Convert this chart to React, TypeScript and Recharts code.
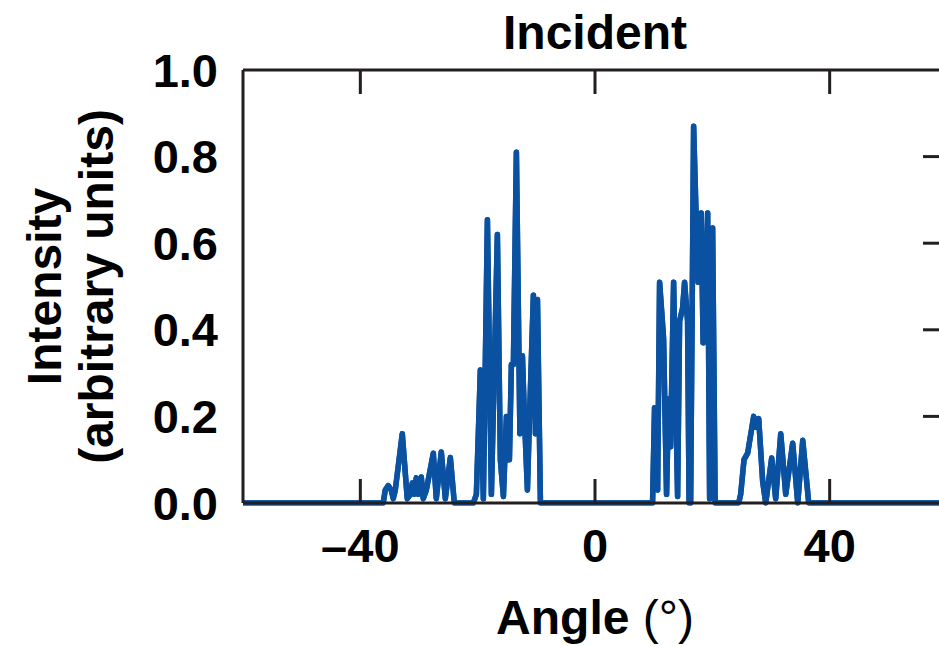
import { Label, Line, LineChart, XAxis, YAxis } from 'recharts'

// Incident intensity vs angle. Four clusters of spikes,
// flat zero everywhere else.
const angles = [
  -60,
  // small left group
  -36.1, -35.75, -35.24, -34.73, -34.39, -34.04, -32.85, -32.0, -31.48, -31.14, -30.8,
  -30.46, -30.12, -29.61, -29.27, -28.75, -27.56, -27.05, -26.2, -25.51, -24.66, -23.98,
  // main left group
  -20.73, -20.22, -19.54, -19.03, -18.34, -17.66, -16.64, -16.13, -15.61, -15.1, -14.59,
  -14.25, -13.91, -13.4, -12.8, -12.37, -12.03, -11.52, -11.18, -10.5, -10.15, -9.81, -9.3,
  // main right group
  9.81, 10.15, 10.67, 11.01, 11.69, 12.2, 12.54, 12.88, 13.4, 14.08, 14.42, 14.93, 15.27,
  15.78, 16.04, 16.3, 16.81, 17.32, 17.58, 18.09, 18.43, 18.86, 19.2, 19.54, 20.05, 20.48,
  // small right group
  24.49, 24.83, 25.4, 26.02, 27.05, 27.39, 27.9, 28.58, 29.1, 30.12, 30.8, 31.66, 32.51,
  33.7, 34.56, 35.41, 36.43,
  60,
]

const intensities = [
  0,
  0, 0.03, 0.04, 0.03, 0.01, 0.03, 0.16, 0.01, 0.02, 0.046, 0.02,
  0.058, 0.02, 0.06, 0.01, 0.03, 0.115, 0.01, 0.118, 0.01, 0.105, 0,
  0, 0.02, 0.307, 0.01, 0.654, 0.02, 0.62, 0.1, 0.015, 0.2, 0.1,
  0.32, 0.32, 0.81, 0.16, 0.34, 0.2, 0.03, 0.19, 0.48, 0.16, 0.47, 0,
  0, 0.22, 0.03, 0.51, 0.38, 0.02, 0.24, 0.13, 0.51, 0.015, 0.42, 0.45, 0.51,
  0.42, 0, 0, 0.87, 0.62, 0.51, 0.67, 0.37, 0.5, 0.67, 0.01, 0.635, 0,
  0, 0.02, 0.1, 0.115, 0.2, 0.175, 0.195, 0.05, 0, 0.104, 0.01, 0.16, 0.02,
  0.138, 0, 0.145, 0,
  0,
]

const xTicks = [-40, 0, 40]
const yTicks = [0, 0.2, 0.4, 0.6, 0.8, 1.0]
const innerYTicks = [0.2, 0.4, 0.6, 0.8]
const title = 'Incident'
const xTitle = ['Angle', ' (°)']
const yTitle = ['Intensity', '(arbitrary units)']

const chartData = angles.map((angle, i) => ({ angle, intensity: intensities[i] }))

const FONT = '"Liberation Sans", Arial, Helvetica, sans-serif'
const INK = '#231f20'
const BLUE = '#0a52a1'
const TICK_LEN = 24
const PLOT_HEIGHT = 433

// top-frame tick marks as short vertical segments hanging from y = 1,
// separated by null gaps so they don't join up
const topTickDrop = TICK_LEN / PLOT_HEIGHT
const topTickData = xTicks.flatMap((t) => [
  { angle: t, mark: 1 },
  { angle: t, mark: 1 - topTickDrop },
  { angle: t, mark: null },
])

const asAngle = (v: number): string => (v < 0 ? `\u2013${Math.abs(v)}` : `${v}`)

// mirror axes only carry inward tick marks, no labels
const noLabel = () => <g />

function YTitle({ viewBox }: any) {
  const cy = viewBox.y + viewBox.height / 2
  const cx = 61
  return (
    <text
      transform={`rotate(-90, ${cx}, ${cy})`}
      x={cx}
      y={cy}
      textAnchor="middle"
      fontFamily={FONT}
      fontWeight={700}
      fontSize={48}
      fill="#000"
    >
      <tspan x={cx} dy={0}>{yTitle[0]}</tspan>
      <tspan x={cx} dy={52}>{yTitle[1]}</tspan>
    </text>
  )
}

function XTitle({ viewBox }: any) {
  return (
    <text
      x={viewBox.x + viewBox.width / 2}
      y={viewBox.y + 131}
      textAnchor="middle"
      fontFamily={FONT}
      fontSize={48}
      fill="#000"
    >
      <tspan fontWeight={700}>{xTitle[0]}</tspan>
      <tspan fontWeight={400}>{xTitle[1]}</tspan>
    </text>
  )
}

export default function App() {
  const tickStyle = { fill: '#000', fontFamily: FONT, fontWeight: 700, fontSize: 47 }
  const ink = { stroke: INK, strokeWidth: 3 }
  return (
    <div
      style={{
        position: 'absolute',
        left: 0,
        top: 0,
        width: 939,
        height: 646,
        overflow: 'hidden',
        background: '#fff',
      }}
    >
      <div
        style={{
          position: 'absolute',
          left: 395,
          top: 9,
          width: 400,
          textAlign: 'center',
          fontFamily: FONT,
          fontWeight: 700,
          fontSize: 48,
          lineHeight: '48px',
          color: '#000',
        }}
      >
        {title}
      </div>
      <LineChart
        width={960}
        height={646}
        data={chartData}
        margin={{ top: 69, right: 12, bottom: 43, left: 0 }}
      >
        <XAxis
          xAxisId="bottom"
          dataKey="angle"
          type="number"
          domain={[-60, 60]}
          ticks={xTicks}
          interval={0}
          tickFormatter={asAngle}
          tick={tickStyle}
          tickSize={-TICK_LEN}
          tickMargin={50}
          tickLine={ink}
          axisLine={ink}
          height={100}
        >
          <Label content={XTitle} />
        </XAxis>
        <XAxis
          xAxisId="top"
          dataKey="angle"
          orientation="top"
          type="number"
          domain={[-60, 60]}
          allowDataOverflow
          ticks={xTicks}
          interval={0}
          tick={noLabel}
          tickLine={false}
          axisLine={ink}
          height={1}
        />
        <YAxis
          yAxisId="left"
          type="number"
          domain={[0, 1]}
          ticks={yTicks}
          interval={0}
          tickFormatter={(v: number) => v.toFixed(1)}
          tick={tickStyle}
          tickLine={false}
          tickSize={0}
          tickMargin={25}
          axisLine={ink}
          width={243}
        >
          <Label content={YTitle} />
        </YAxis>
        <YAxis
          yAxisId="right"
          orientation="right"
          type="number"
          domain={[0, 1]}
          allowDataOverflow
          ticks={innerYTicks}
          interval={0}
          tick={noLabel}
          tickSize={-TICK_LEN}
          tickLine={ink}
          axisLine={false}
          width={1}
        />
        <Line
          xAxisId="bottom"
          yAxisId="left"
          data={topTickData}
          type="linear"
          dataKey="mark"
          stroke={INK}
          strokeWidth={3}
          connectNulls={false}
          dot={false}
          activeDot={false}
          legendType="none"
          isAnimationActive={false}
        />
        <Line
          xAxisId="bottom"
          yAxisId="left"
          type="linear"
          dataKey="intensity"
          stroke={BLUE}
          strokeWidth={5.5}
          strokeLinejoin="round"
          dot={false}
          activeDot={false}
          isAnimationActive={false}
        />
        <Line
          xAxisId="top"
          yAxisId="right"
          type="linear"
          dataKey="intensity"
          stroke={BLUE}
          strokeWidth={5.5}
          strokeLinejoin="round"
          dot={false}
          activeDot={false}
          legendType="none"
          isAnimationActive={false}
        />
      </LineChart>
    </div>
  )
}
